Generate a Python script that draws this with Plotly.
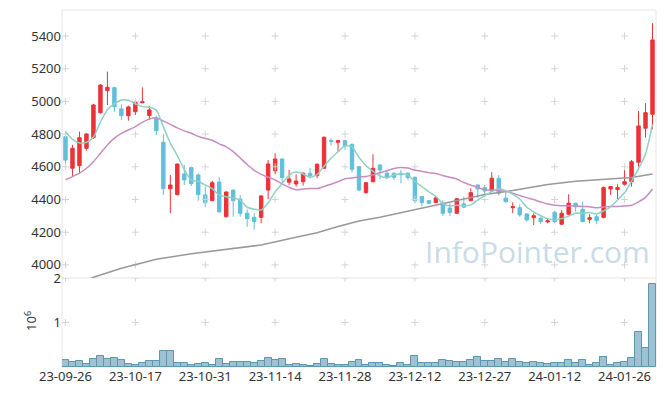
import plotly.graph_objects as go

# ---- data ----
dates = ["23-09-26","23-09-27","23-10-04","23-10-05","23-10-06","23-10-10","23-10-11","23-10-12","23-10-13","23-10-16",
         "23-10-17","23-10-18","23-10-19","23-10-20","23-10-23","23-10-24","23-10-25","23-10-26","23-10-27","23-10-30",
         "23-10-31","23-11-01","23-11-02","23-11-03","23-11-06","23-11-07","23-11-08","23-11-09","23-11-10","23-11-13",
         "23-11-14","23-11-15","23-11-16","23-11-17","23-11-20","23-11-21","23-11-22","23-11-23","23-11-24","23-11-27",
         "23-11-28","23-11-29","23-11-30","23-12-01","23-12-04","23-12-05","23-12-06","23-12-07","23-12-08","23-12-11",
         "23-12-12","23-12-13","23-12-14","23-12-15","23-12-18","23-12-19","23-12-20","23-12-21","23-12-22","23-12-26",
         "23-12-27","23-12-28","24-01-02","24-01-03","24-01-04","24-01-05","24-01-08","24-01-09","24-01-10","24-01-11",
         "24-01-12","24-01-15","24-01-16","24-01-17","24-01-18","24-01-19","24-01-22","24-01-23","24-01-24","24-01-25",
         "24-01-26","24-01-29","24-01-30","24-01-31","24-02-01"]

opens = [4784,4591,4607,4713,4778,4931,5066,5084,4954,4913,
         4937,4992,4913,4897,4750,4466,4430,4556,4595,4550,
         4428,4393,4507,4295,4458,4403,4316,4291,4291,4458,
         4576,4648,4506,4495,4509,4561,4546,4591,4760,4750,
         4760,4738,4601,4442,4509,4611,4561,4561,4561,4561,
         4536,4418,4393,4381,4377,4348,4316,4373,4393,4489,
         4473,4452,4530,4408,4350,4350,4312,4289,4285,4263,
         4322,4249,4310,4377,4340,4279,4295,4291,4465,4461,
         4493,4509,4628,4836,4921]
highs = [4805,4734,4815,4805,4985,5105,5182,5090,4982,4974,
         5000,5086,4974,4913,4801,4550,4620,4611,4600,4560,
         4479,4515,4536,4450,4460,4428,4340,4316,4425,4642,
         4683,4650,4581,4554,4565,4595,4620,4785,4775,4763,
         4765,4740,4605,4507,4677,4615,4581,4565,4581,4565,
         4540,4420,4395,4418,4397,4377,4408,4418,4469,4492,
         4489,4567,4550,4452,4383,4371,4315,4316,4295,4285,
         4330,4336,4432,4380,4387,4310,4305,4480,4483,4493,
         4581,4642,4941,4989,5478]
lows = [4611,4540,4561,4699,4770,4925,4978,4937,4886,4882,
        4917,4990,4886,4795,4428,4316,4425,4489,4483,4393,
        4353,4390,4320,4290,4295,4295,4234,4214,4255,4402,
        4554,4489,4489,4479,4485,4530,4530,4588,4729,4693,
        4703,4567,4450,4435,4505,4524,4524,4520,4499,4520,
        4377,4356,4374,4378,4299,4299,4312,4348,4390,4408,
        4428,4448,4424,4380,4316,4295,4265,4244,4249,4255,
        4255,4245,4305,4326,4260,4255,4249,4285,4428,4403,
        4485,4479,4601,4778,4830]
closes = [4641,4713,4778,4801,4978,5100,5086,4968,4913,4966,
          4995,4998,4948,4821,4466,4489,4617,4520,4497,4430,
          4381,4503,4325,4446,4393,4316,4283,4265,4422,4617,
          4648,4534,4526,4513,4561,4546,4616,4781,4756,4760,
          4729,4585,4458,4503,4591,4581,4536,4536,4552,4534,
          4393,4381,4377,4410,4316,4320,4405,4353,4442,4465,
          4452,4530,4438,4387,4356,4306,4275,4301,4265,4269,
          4265,4316,4377,4356,4265,4289,4271,4473,4479,4473,
          4509,4631,4850,4931,5376]
volumes_m = [0.16,0.115,0.14,0.07,0.18,0.25,0.18,0.21,0.16,0.07,
             0.045,0.09,0.14,0.14,0.37,0.37,0.09,0.09,0.045,0.07,
             0.09,0.045,0.18,0.07,0.115,0.115,0.115,0.09,0.14,0.21,
             0.16,0.18,0.045,0.07,0.045,0.023,0.07,0.18,0.07,0.045,
             0.04,0.11,0.16,0.04,0.085,0.085,0.04,0.015,0.085,0.04,
             0.245,0.085,0.085,0.085,0.16,0.14,0.115,0.115,0.16,0.22,
             0.14,0.14,0.18,0.115,0.18,0.115,0.085,0.115,0.085,0.06,
             0.085,0.085,0.16,0.085,0.16,0.04,0.085,0.22,0.04,0.085,
             0.115,0.2,0.78,0.435,1.855]

# moving-average values before enough in-window closes exist
ma5_head = [4815, 4768, 4746, 4750]
ma20_head = [4520, 4540, 4561, 4591, 4631, 4683, 4734, 4775, 4805, 4825,
             4846, 4872, 4893, 4900, 4880, 4860, 4838, 4820, 4805]
# long moving average (120-day) read at sample points
ma120_idx = [3, 4, 8, 13, 18, 21, 24, 28, 32, 36, 39, 42, 45, 50, 55, 60, 64, 69, 73, 77, 81, 84]
ma120_val = [3905, 3925, 3980, 4035, 4068, 4085, 4102, 4122, 4160, 4197, 4235, 4268, 4292,
             4338, 4381, 4430, 4455, 4492, 4512, 4524, 4534, 4556]

tick_every = 10
price_ticks = [4000, 4200, 4400, 4600, 4800, 5000, 5200, 5400]
vol_ticks = [1, 2]

# ---- derived ----
n = len(dates)
idx = list(range(n))
ma5 = ma5_head + [sum(closes[i-4:i+1]) / 5 for i in range(4, n)]
ma20 = ma20_head + [sum(closes[i-19:i+1]) / 20 for i in range(19, n)]
tickvals = idx[::tick_every]
ticktext = [dates[i] for i in tickvals]

RED = "#ec3238"
BLUE = "#62bfd9"
GRID = "#d4d4d4"
FRAME = "#e6e6e6"
VOL_DOM = 0.2493

fig = go.Figure()

# grid crosses
gx = [x for x in tickvals for _ in price_ticks]
gy = [y for _ in tickvals for y in price_ticks]
fig.add_trace(go.Scatter(x=gx, y=gy, mode="markers", xaxis="x", yaxis="y",
                         marker=dict(symbol="cross-thin", size=5, line=dict(width=1, color=GRID)),
                         hoverinfo="skip", showlegend=False))
gx2 = [x for x in tickvals for _ in vol_ticks]
gy2 = [y for _ in tickvals for y in vol_ticks]
fig.add_trace(go.Scatter(x=gx2, y=gy2, mode="markers", xaxis="x", yaxis="y2",
                         marker=dict(symbol="cross-thin", size=5, line=dict(width=1, color=GRID)),
                         hoverinfo="skip", showlegend=False))

fig.add_trace(go.Candlestick(
    x=idx, open=opens, high=highs, low=lows, close=closes,
    xaxis="x", yaxis="y",
    increasing=dict(line=dict(color=RED, width=1), fillcolor=RED),
    decreasing=dict(line=dict(color=BLUE, width=1), fillcolor=BLUE),
    whiskerwidth=0, showlegend=False, hoverinfo="skip"))

fig.add_trace(go.Scatter(x=ma120_idx, y=ma120_val, mode="lines", xaxis="x", yaxis="y",
                         line=dict(color="#999999", width=1.5), hoverinfo="skip", showlegend=False))
fig.add_trace(go.Scatter(x=idx, y=ma20, mode="lines", xaxis="x", yaxis="y",
                         line=dict(color="#c98cc2", width=1.5, shape="spline", smoothing=0.6),
                         hoverinfo="skip", showlegend=False))
fig.add_trace(go.Scatter(x=idx, y=ma5, mode="lines", xaxis="x", yaxis="y",
                         line=dict(color="#8fd0c5", width=1.5, shape="spline", smoothing=0.6),
                         hoverinfo="skip", showlegend=False))

fig.add_trace(go.Bar(x=idx, y=volumes_m, xaxis="x", yaxis="y2",
                     marker=dict(color="#9cc2d3", line=dict(color="#5e96ae", width=1)),
                     hoverinfo="skip", showlegend=False))

tickfont = dict(family="Noto Sans", size=13, color="#333333")

# the page body has an 8px default margin, so the figure is sized to fit inside it
fig.update_layout(
    width=649, height=380,
    margin=dict(l=54, r=1, t=2, b=21, autoexpand=False),
    paper_bgcolor="white", plot_bgcolor="white",
    bargap=0,
    showlegend=False,
    xaxis=dict(range=[-0.5, n - 0.5], anchor="y2", tickvals=tickvals, ticktext=ticktext,
               showgrid=False, zeroline=False, showline=False, ticks="", automargin=False,
               tickfont=tickfont, rangeslider=dict(visible=False)),
    yaxis=dict(domain=[VOL_DOM, 1], range=[3920, 5559], tickvals=price_ticks, automargin=False,
               showgrid=False, zeroline=False, showline=False, ticks="", tickfont=tickfont),
    yaxis2=dict(domain=[0, VOL_DOM], range=[0, 2.0001], tickvals=vol_ticks, automargin=False,
                showgrid=False, zeroline=False, showline=False, ticks="", tickfont=tickfont),
    shapes=[
        dict(type="rect", xref="paper", yref="paper", x0=0, x1=1, y0=0, y1=1,
             line=dict(color=FRAME, width=1), layer="below"),
        dict(type="line", xref="paper", yref="paper", x0=0, x1=1, y0=VOL_DOM, y1=VOL_DOM,
             line=dict(color=FRAME, width=1), layer="below"),
    ],
    annotations=[
        dict(text="10<sup>6</sup>", xref="paper", yref="paper", x=-0.0522, y=0.129,
             xanchor="center", yanchor="middle", textangle=-90, showarrow=False,
             font=dict(family="Noto Sans", size=13, color="#333333")),
        dict(text="InfoPointer.com", xref="paper", yref="paper", x=0.9937, y=0.2606,
             xanchor="right", yanchor="bottom", showarrow=False,
             font=dict(family="Open Sans", size=30, color="#c9dbe6")),
    ],
)

fig.write_html("out.html")
